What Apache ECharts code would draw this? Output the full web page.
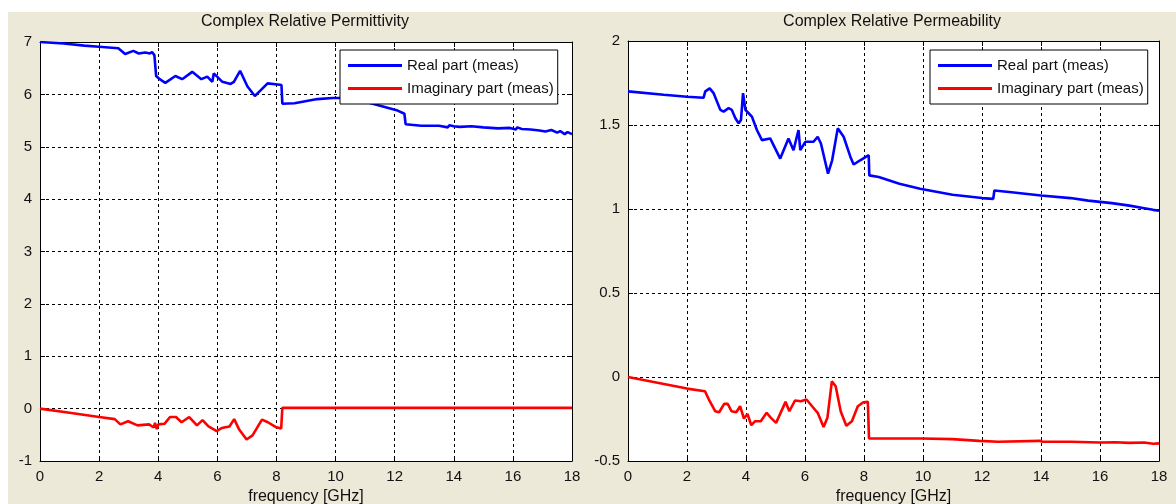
<!DOCTYPE html>
<html>
<head>
<meta charset="utf-8">
<script src="https://cdn.jsdelivr.net/npm/echarts@6/dist/echarts.min.js"></script>
<style>
  html, body { margin: 0; padding: 0; background: #ffffff; }
  #frame { position: absolute; left: 8px; top: 12px; width: 1168px; height: 492px; background: #ECE9D8; }
  #chart { position: absolute; left: 0; top: 0; width: 1176px; height: 504px; }
</style>
</head>
<body>
<div id="frame"></div>
<div id="chart"></div>
<script>
// Tick labels and titles
const freqTicks = [0, 2, 4, 6, 8, 10, 12, 14, 16, 18];
const permTitle = 'Complex Relative Permittivity';
const mueTitle = 'Complex Relative Permeability';
const xName = 'frequency [GHz]';
const seriesNames = ['Real part (meas)', 'Imaginary part (meas)'];

// Permittivity, real part: [frequency GHz, value]
const epsReal = [
  [0, 7.0], [0.8, 6.97], [1.5, 6.93], [2.0, 6.91], [2.65, 6.88], [2.88, 6.77], [3.16, 6.83],
  [3.34, 6.78], [3.56, 6.80], [3.72, 6.78], [3.79, 6.81], [3.87, 6.75], [3.93, 6.35],
  [4.05, 6.29], [4.24, 6.22], [4.58, 6.35], [4.81, 6.29], [5.15, 6.43], [5.2, 6.43],
  [5.46, 6.29], [5.66, 6.34], [5.83, 6.24], [5.88, 6.40], [6.17, 6.24], [6.45, 6.20],
  [6.56, 6.24], [6.77, 6.45], [7.02, 6.15], [7.27, 5.97], [7.47, 6.08], [7.70, 6.21],
  [8.04, 6.19], [8.17, 6.18], [8.2, 5.82], [8.61, 5.83], [9.39, 5.91], [9.9, 5.93],
  [10.4, 5.93], [11.07, 5.85], [11.6, 5.77], [12.1, 5.69], [12.33, 5.63], [12.37, 5.43],
  [12.9, 5.40], [13.5, 5.40], [13.8, 5.37], [13.85, 5.41], [14.0, 5.39], [14.2, 5.38],
  [14.6, 5.39], [15.0, 5.37], [15.5, 5.35], [15.9, 5.36], [16.1, 5.33], [16.15, 5.37],
  [16.3, 5.34], [16.6, 5.33], [16.9, 5.31], [17.1, 5.29], [17.3, 5.32], [17.5, 5.27],
  [17.6, 5.30], [17.75, 5.24], [17.85, 5.28], [18.0, 5.24]
];

// Permittivity, imaginary part
const epsImag = [
  [0, 0], [1.0, -0.08], [2.0, -0.16], [2.53, -0.20], [2.72, -0.30], [2.98, -0.24],
  [3.3, -0.32], [3.69, -0.30], [3.85, -0.36], [3.89, -0.27], [3.95, -0.39], [4.0, -0.30],
  [4.21, -0.29], [4.4, -0.16], [4.6, -0.16], [4.79, -0.26], [5.05, -0.16], [5.31, -0.32],
  [5.5, -0.22], [5.7, -0.34], [5.98, -0.43], [6.15, -0.37], [6.41, -0.34], [6.57, -0.20],
  [6.74, -0.40], [6.99, -0.59], [7.19, -0.51], [7.51, -0.21], [7.71, -0.26], [7.97, -0.35],
  [8.16, -0.38], [8.2, 0.015], [18.0, 0.015]
];

// Permeability, real part
const muReal = [
  [0, 1.70], [1.21, 1.68], [2.0, 1.668], [2.56, 1.662], [2.62, 1.70], [2.77, 1.718],
  [2.90, 1.69], [3.13, 1.59], [3.24, 1.58], [3.41, 1.60], [3.52, 1.59], [3.64, 1.54],
  [3.75, 1.51], [3.83, 1.53], [3.90, 1.69], [3.98, 1.59], [4.09, 1.57], [4.2, 1.55],
  [4.37, 1.47], [4.54, 1.41], [4.82, 1.42], [5.16, 1.30], [5.44, 1.42], [5.61, 1.35],
  [5.78, 1.47], [5.84, 1.35], [6.01, 1.40], [6.29, 1.40], [6.43, 1.43], [6.54, 1.39],
  [6.78, 1.21], [6.92, 1.29], [7.11, 1.48], [7.31, 1.43], [7.54, 1.31], [7.65, 1.265],
  [7.87, 1.29], [8.16, 1.32], [8.18, 1.20], [8.5, 1.19], [9.2, 1.15], [9.9, 1.12],
  [11.0, 1.085], [12.0, 1.065], [12.38, 1.06], [12.42, 1.11], [13.0, 1.10], [14.0, 1.08],
  [15.0, 1.065], [15.6, 1.05], [16.4, 1.035], [17.0, 1.02], [17.5, 1.005], [17.8, 0.995],
  [18.0, 0.99]
];

// Permeability, imaginary part
const muImag = [
  [0, 0], [2.0, -0.069], [2.61, -0.085], [2.77, -0.144], [2.96, -0.204], [3.09, -0.21],
  [3.26, -0.16], [3.38, -0.16], [3.51, -0.204], [3.67, -0.21], [3.80, -0.174], [3.93, -0.247],
  [4.05, -0.22], [4.18, -0.287], [4.31, -0.263], [4.5, -0.263], [4.70, -0.213], [4.83, -0.24],
  [5.02, -0.273], [5.34, -0.148], [5.47, -0.204], [5.66, -0.14], [5.86, -0.144], [6.05, -0.134],
  [6.24, -0.174], [6.43, -0.213], [6.63, -0.298], [6.76, -0.243], [6.91, -0.026], [7.04, -0.055],
  [7.21, -0.204], [7.40, -0.29], [7.59, -0.263], [7.79, -0.174], [7.98, -0.15], [8.13, -0.148],
  [8.17, -0.366], [9.97, -0.366], [11.0, -0.37], [11.9, -0.38], [12.55, -0.385], [13.96, -0.38],
  [14.0, -0.372], [14.05, -0.385], [15.0, -0.385], [16.0, -0.39], [16.5, -0.388], [17.0, -0.392],
  [17.5, -0.39], [17.8, -0.397], [18.0, -0.395]
];

const FONT = 'Liberation Sans, Arial, sans-serif';
const BLACK = '#000000';

function bottomAxis(grid) {
  return {
    type: 'value', gridIndex: grid, min: 0, max: 18, interval: 2, position: 'bottom',
    name: xName, nameLocation: 'middle', nameGap: 26,
    nameTextStyle: { fontFamily: FONT, fontSize: 16, color: '#111' },
    axisLine: { show: true, onZero: false, lineStyle: { color: BLACK, width: 1 } },
    axisTick: { show: true, inside: true, length: 5, lineStyle: { color: BLACK } },
    axisLabel: { fontFamily: FONT, fontSize: 15, color: '#111', margin: 8,
      formatter: v => (freqTicks.indexOf(v) >= 0 ? String(v) : '') },
    splitLine: { show: true, lineStyle: { color: BLACK, width: 1, type: [3, 3] } }
  };
}
function topAxis(grid) {
  return {
    type: 'value', gridIndex: grid, min: 0, max: 18, interval: 2, position: 'top',
    axisLine: { show: true, onZero: false, lineStyle: { color: BLACK, width: 1 } },
    axisTick: { show: true, inside: true, length: 5, lineStyle: { color: BLACK } },
    axisLabel: { show: false }, splitLine: { show: false }
  };
}
function leftAxis(grid, min, max, step) {
  return {
    type: 'value', gridIndex: grid, min: min, max: max, interval: step, position: 'left',
    axisLine: { show: true, onZero: false, lineStyle: { color: BLACK, width: 1 } },
    axisTick: { show: true, inside: true, length: 5, lineStyle: { color: BLACK } },
    axisLabel: { fontFamily: FONT, fontSize: 15, color: '#111', margin: 8 },
    splitLine: { show: true, lineStyle: { color: BLACK, width: 1, type: [3, 3] } }
  };
}
function rightAxis(grid, min, max, step) {
  return {
    type: 'value', gridIndex: grid, min: min, max: max, interval: step, position: 'right',
    axisLine: { show: true, onZero: false, lineStyle: { color: BLACK, width: 1 } },
    axisTick: { show: true, inside: true, length: 5, lineStyle: { color: BLACK } },
    axisLabel: { show: false }, splitLine: { show: false }
  };
}
function legendAt(x) {
  return {
    orient: 'vertical', left: x, top: 50, data: seriesNames,
    backgroundColor: '#ffffff', borderColor: BLACK, borderWidth: 1, borderRadius: 0,
    padding: [8, 4, 8, 8], itemGap: 8, itemWidth: 54, itemHeight: 3, icon: 'rect',
    selectedMode: false,
    textStyle: { fontFamily: FONT, fontSize: 15, color: '#111' }
  };
}
function lineSeries(name, data, color, xi, yi) {
  return {
    name: name, type: 'line', data: data, xAxisIndex: xi, yAxisIndex: yi,
    showSymbol: false, symbol: 'none', smooth: false, color: color,
    lineStyle: { color: color, width: 2.6 }, z: 3
  };
}

const chart = echarts.init(document.getElementById('chart'), null, { renderer: 'canvas' });
chart.setOption({
  animation: false,
  backgroundColor: 'transparent',
  title: [
    { text: permTitle, left: 305, top: 14, textAlign: 'center', padding: 0,
      textStyle: { fontFamily: FONT, fontSize: 16, fontWeight: 'normal', color: '#111' } },
    { text: mueTitle, left: 892, top: 14, textAlign: 'center', padding: 0,
      textStyle: { fontFamily: FONT, fontSize: 16, fontWeight: 'normal', color: '#111' } }
  ],
  grid: [
    { left: 40, top: 42, width: 532, height: 419, show: true, backgroundColor: '#ffffff',
      borderWidth: 0, containLabel: false, outerBoundsMode: 'none' },
    { left: 628, top: 41, width: 531, height: 420, show: true, backgroundColor: '#ffffff',
      borderWidth: 0, containLabel: false, outerBoundsMode: 'none' }
  ],
  xAxis: [bottomAxis(0), topAxis(0), bottomAxis(1), topAxis(1)],
  yAxis: [leftAxis(0, -1, 7, 1), rightAxis(0, -1, 7, 1), leftAxis(1, -0.5, 2, 0.5), rightAxis(1, -0.5, 2, 0.5)],
  legend: [legendAt(340), legendAt(930)],
  series: [
    lineSeries(seriesNames[0], epsReal, '#0000ff', 0, 0),
    lineSeries(seriesNames[1], epsImag, '#ff0000', 0, 0),
    lineSeries(seriesNames[0], muReal, '#0000ff', 2, 2),
    lineSeries(seriesNames[1], muImag, '#ff0000', 2, 2)
  ]
});
</script>
</body>
</html>
